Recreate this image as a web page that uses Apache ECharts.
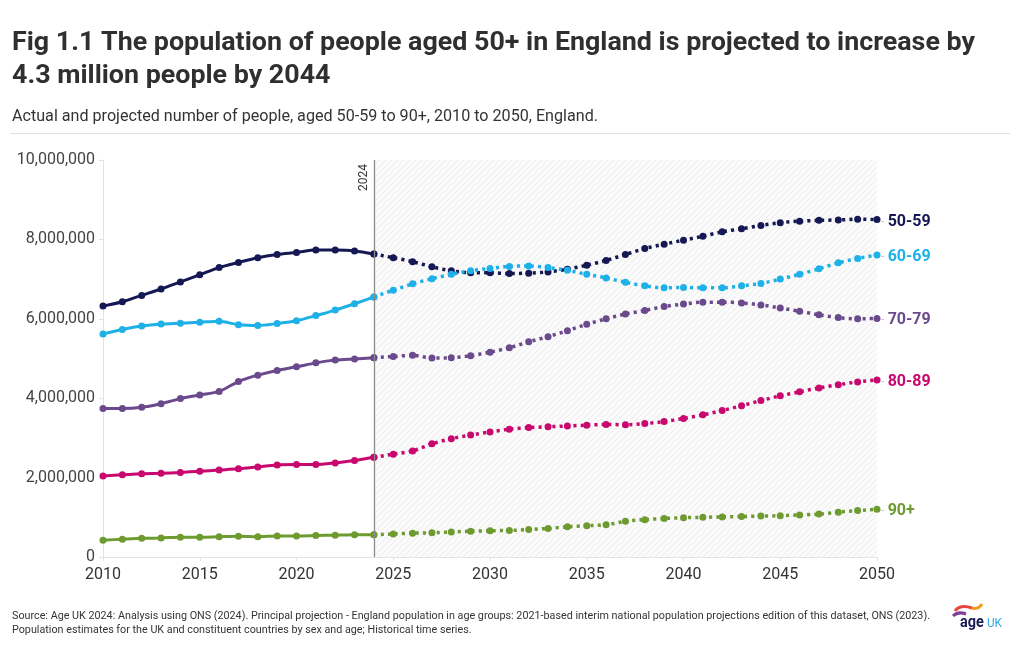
<!DOCTYPE html>
<html>
<head>
<meta charset="utf-8">
<script src="https://cdn.jsdelivr.net/npm/echarts@6/dist/echarts.min.js"></script>
<style>
html,body{margin:0;padding:0;background:#fff;}
#chart{width:1020px;height:650px;}
</style>
</head>
<body>
<div id="chart"></div>
<script>
// ---- Data (values in millions of people) ----
const actualYears = [2010,2011,2012,2013,2014,2015,2016,2017,2018,2019,2020,2021,2022,2023,2024];
const projYears = [2024,2025,2026,2027,2028,2029,2030,2031,2032,2033,2034,2035,2036,2037,2038,2039,2040,2041,2042,2043,2044,2045,2046,2047,2048,2049,2050];

const groups = ['50-59','60-69','70-79','80-89','90+'];

const actual_50_59 = [6.32,6.43,6.59,6.75,6.93,7.11,7.29,7.42,7.54,7.62,7.67,7.73,7.73,7.71,7.63];
const proj_50_59 = [7.63,7.54,7.44,7.31,7.21,7.16,7.16,7.14,7.15,7.18,7.25,7.35,7.47,7.62,7.77,7.88,7.98,8.08,8.19,8.27,8.35,8.42,8.46,8.48,8.49,8.51,8.50];

const actual_60_69 = [5.62,5.73,5.82,5.87,5.89,5.91,5.94,5.85,5.83,5.88,5.95,6.08,6.22,6.38,6.55];
const proj_60_69 = [6.55,6.72,6.88,7.01,7.12,7.21,7.27,7.32,7.33,7.29,7.22,7.12,7.03,6.92,6.83,6.78,6.79,6.78,6.78,6.83,6.89,7.00,7.12,7.26,7.41,7.52,7.61];

const actual_70_79 = [3.74,3.74,3.77,3.86,3.99,4.08,4.17,4.42,4.58,4.70,4.79,4.89,4.96,4.99,5.02];
const proj_70_79 = [5.02,5.05,5.08,5.01,5.02,5.07,5.16,5.27,5.42,5.55,5.70,5.86,6.00,6.12,6.21,6.31,6.37,6.42,6.42,6.40,6.35,6.27,6.19,6.10,6.03,6.00,6.01];

const actual_80_89 = [2.04,2.07,2.10,2.11,2.13,2.16,2.19,2.22,2.27,2.32,2.33,2.33,2.37,2.43,2.51];
const proj_80_89 = [2.51,2.59,2.67,2.85,2.98,3.07,3.15,3.22,3.26,3.28,3.30,3.32,3.34,3.33,3.36,3.41,3.49,3.58,3.69,3.81,3.94,4.06,4.16,4.26,4.34,4.41,4.46];

const actual_90 = [0.42,0.45,0.47,0.48,0.50,0.50,0.51,0.52,0.51,0.53,0.53,0.54,0.55,0.56,0.56];
const proj_90 = [0.56,0.58,0.60,0.61,0.63,0.65,0.66,0.67,0.69,0.72,0.76,0.79,0.81,0.90,0.94,0.97,0.99,1.00,1.01,1.02,1.03,1.04,1.06,1.08,1.13,1.17,1.20];

const actualSets = [actual_50_59, actual_60_69, actual_70_79, actual_80_89, actual_90];
const projSets = [proj_50_59, proj_60_69, proj_70_79, proj_80_89, proj_90];

const yTicks = [0, 2000000, 4000000, 6000000, 8000000, 10000000];
const projectionStart = 2024;

const titleLines = ['Fig 1.1 The population of people aged 50+ in England is projected to increase by','4.3 million people by 2044'];
const subtitleText = 'Actual and projected number of people, aged 50-59 to 90+, 2010 to 2050, England.';
const sourceLines = ['Source: Age UK 2024: Analysis using ONS (2024). Principal projection - England population in age groups: 2021-based interim national population projections edition of this dataset, ONS (2023).','Population estimates for the UK and constituent countries by sex and age; Historical time series.'];

// ---- Styles ----
const colors = ['#151852','#1eb1e7','#6a4a8c','#c8076f','#6e9b2f'];
const baseFont = 'Roboto, "Noto Sans", sans-serif';

// measure helper to emulate a condensed face via horizontal scaling
const mc = document.createElement('canvas').getContext('2d');
function fitScale(text, font, targetW){ mc.font = font; return targetW / mc.measureText(text).width; }

const titleFont = 'bold 25px Roboto';
const titleScale = fitScale(titleLines[0], titleFont, 963);
const subFont = '16px Roboto';
const subScale = fitScale(subtitleText, subFont, 586);
const srcFont = '11px Roboto';
const srcScale = fitScale(sourceLines[0], srcFont, 918);

// hatched pattern for projection area
const pat = document.createElement('canvas');
pat.width = 6; pat.height = 6;
const pc = pat.getContext('2d');
pc.fillStyle = '#fbfbfb'; pc.fillRect(0,0,6,6);
pc.strokeStyle = '#ebebeb'; pc.lineWidth = 1;
pc.beginPath(); pc.moveTo(0,6); pc.lineTo(6,0); pc.stroke();
pc.beginPath(); pc.moveTo(-1,1); pc.lineTo(1,-1); pc.stroke();
pc.beginPath(); pc.moveTo(5,7); pc.lineTo(7,5); pc.stroke();

const toPairs = (yrs, vals) => yrs.map((y,i)=>[y, Math.round(vals[i]*1000000)]);

const series = [];
groups.forEach((g,i)=>{
  series.push({
    name: g, type:'line', smooth:0.3, symbol:'circle', symbolSize:7,
    data: toPairs(actualYears, actualSets[i]),
    lineStyle:{color:colors[i], width:3},
    itemStyle:{color:colors[i]},
    z: 3
  });
  series.push({
    name: g, type:'line', smooth:0.3, symbol:'circle', symbolSize:7,
    data: toPairs(projYears, projSets[i]),
    lineStyle:{color:colors[i], width:3.5, type:[3,4]},
    itemStyle:{color:colors[i]},
    z: 3,
    endLabel:{
      show:true, distance:4, offset:[0,2],
      formatter: () => '{d|-} {n|' + g + '}',
      rich:{
        d:{color:'#c8c8c8', fontSize:12, fontFamily:baseFont},
        n:{color:colors[i], fontSize:16, fontWeight:'bold', fontFamily:baseFont}
      }
    }
  });
});

// projection shading + 2024 marker line
series.push({
  type:'line', data:[], silent:true,
  markArea:{
    silent:true,
    itemStyle:{color:{image:pat, repeat:'repeat'}},
    data:[[{xAxis:projectionStart, yAxis:0},{xAxis:2050, yAxis:10000000}]]
  },
  markLine:{
    silent:true, symbol:['none','none'],
    lineStyle:{color:'#8c8c8c', width:1.3, type:'solid'},
    label:{show:true, position:'insideEndTop', formatter:String(projectionStart), color:'#333', fontSize:12, fontFamily:baseFont, distance:4},
    data:[{xAxis:projectionStart}]
  },
  z:1
});

const chart = echarts.init(document.getElementById('chart'), null, {renderer:'canvas'});
chart.setOption({
  animation:false,
  backgroundColor:'#fff',
  graphic:[
    {type:'text', x:12, y:31, scaleX:titleScale, style:{text:titleLines[0], fill:'#2f2f2f', font:titleFont, verticalAlign:'top'}},
    {type:'text', x:12, y:64, scaleX:titleScale, style:{text:titleLines[1], fill:'#2f2f2f', font:titleFont, verticalAlign:'top'}},
    {type:'text', x:12, y:109, scaleX:subScale, style:{text:subtitleText, fill:'#333', font:subFont, verticalAlign:'top'}},
    {type:'line', shape:{x1:10,y1:133.5,x2:1010,y2:133.5}, style:{stroke:'#e2e2e2', lineWidth:1}},
    {type:'text', x:12, y:611, scaleX:srcScale, style:{text:sourceLines[0], fill:'#333', font:srcFont, verticalAlign:'top'}},
    {type:'text', x:12, y:625, scaleX:srcScale, style:{text:sourceLines[1], fill:'#333', font:srcFont, verticalAlign:'top'}},
    {type:'text', x:960, y:614, scaleX:0.85, style:{text:'age', fill:'#1b1a55', font:'bold 17px Roboto', verticalAlign:'top'}},
    {type:'text', x:987, y:617, scaleX:0.9, style:{text:'UK', fill:'#2fa8e0', font:'13px Roboto', verticalAlign:'top'}},
    {type:'bezierCurve', shape:{x1:955,y1:611,cpx1:960,cpy1:604,x2:972,y2:608}, style:{stroke:'#e8463c', lineWidth:3, fill:null}},
    {type:'bezierCurve', shape:{x1:972,y1:608,cpx1:978,cpy1:610,x2:982,y2:604}, style:{stroke:'#f29a1f', lineWidth:3, fill:null}},
    {type:'bezierCurve', shape:{x1:953,y1:616,cpx1:958,cpy1:611,x2:966,y2:614}, style:{stroke:'#7d3f98', lineWidth:3, fill:null}}
  ],
  grid:{left:103, right:143, top:160, bottom:93, containLabel:false},
  xAxis:{
    type:'value', min:2010, max:2050, interval:5,
    axisLine:{show:true, lineStyle:{color:'#e3e3e3'}},
    axisTick:{show:true, length:4, lineStyle:{color:'#e3e3e3'}},
    splitLine:{show:false},
    axisLabel:{color:'#333', fontSize:16, fontFamily:baseFont, margin:10, formatter:v=>String(v)}
  },
  yAxis:{
    type:'value', min:yTicks[0], max:yTicks[yTicks.length-1], interval:yTicks[1]-yTicks[0],
    axisLine:{show:true, lineStyle:{color:'#e3e3e3'}},
    axisTick:{show:true, length:4, lineStyle:{color:'#e3e3e3'}},
    splitLine:{show:false},
    axisLabel:{color:'#444', fontSize:16, fontFamily:baseFont, margin:8,
      formatter:v=>v.toLocaleString('en-GB')}
  },
  series: series
});
</script>
</body>
</html>
